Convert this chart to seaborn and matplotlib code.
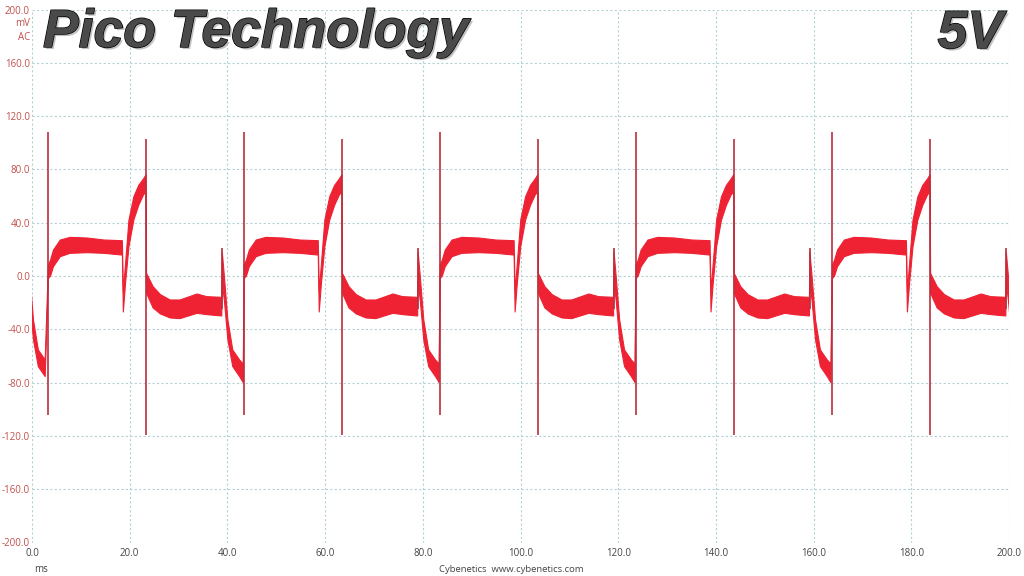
import numpy as np
import pandas as pd
import matplotlib
matplotlib.use("Agg")
import matplotlib.pyplot as plt
import matplotlib.patheffects as pe
import seaborn as sns

# one ripple cycle, time relative to the big spike (ms)
cycle_t = [0.05, 0.5, 1.1, 2.5, 4.5, 8.0, 11.5, 15.2, 15.4, 15.85, 16.55, 17.55,
           18.55, 19.55, 20.05, 20.15, 21.5, 23.0, 25.0, 27.0, 30.5, 32.5, 35.55,
           35.65, 36.1, 36.8, 37.8, 39.2, 39.95]
cycle_top = [8, 12, 19.5, 27, 29, 28.5, 27, 26.5, -12, 9.5, 42, 59.5,
             68, 73, 76, 2, -8, -14, -18, -18, -13.5, -15.5, -16,
             18, -1, -33, -55.5, -63, -66]
cycle_bottom = [-2, 0, 7, 14.5, 17, 17.5, 17, 15.7, -27, -5.5, 22, 42,
                53, 61, 63, -13, -24, -28.5, -31.5, -32, -28, -29, -30,
                -5, -19, -48, -68, -75.5, -80]

# spikes in one cycle: position, top, bottom
spike_t = [0.0, 20.1, 35.6]
spike_top = [108, 103, 21]
spike_bottom = [-104, -119, -25]

# big spike positions of each cycle on the screen (ms)
cycle_starts = [-36.5, 3.3, 43.4, 83.5, 123.6, 163.8]

x_ticks = [0, 20, 40, 60, 80, 100, 120, 140, 160, 180, 200]
y_ticks = [-200, -160, -120, -80, -40, 0, 40, 80, 120, 160, 200]

trace_color = "#ee2233"
spike_color = "#b8303c"
grid_color = "#b4d2d6"
ylab_color = "#c0504d"

# build the trace table from the cycle readings
rows = []
spikes = []
for i, s in enumerate(cycle_starts):
    end = cycle_starts[i + 1] - s if i + 1 < len(cycle_starts) else 60
    for t, hi, lo in zip(cycle_t, cycle_top, cycle_bottom):
        if t < end:
            rows.append((s + t, hi, lo))
    for t, hi, lo in zip(spike_t, spike_top, spike_bottom):
        spikes.append((s + t, hi, lo))
df = pd.DataFrame(rows, columns=["ms", "top", "bottom"])
sp = pd.DataFrame(spikes, columns=["ms", "top", "bottom"])

sns.set_theme(style="white")
plt.rcParams["font.family"] = ["Open Sans", "DejaVu Sans"]

fig = plt.figure(figsize=(10.24, 5.76), dpi=100)
ax = fig.add_axes([32 / 1024, 1 - 542.5 / 576, 977 / 1024, 533 / 576])

ax.fill_between(df["ms"], df["bottom"], df["top"], color=trace_color, lw=0)
sns.lineplot(data=df, x="ms", y="top", color=trace_color, lw=0.8, ax=ax)
sns.lineplot(data=df, x="ms", y="bottom", color=trace_color, lw=0.8, ax=ax)
ax.vlines(sp["ms"], sp["bottom"], sp["top"], color=spike_color, lw=1.2)

ax.set_xlim(0, 200)
ax.set_ylim(-200, 200)
ax.set_xticks(x_ticks)
ax.set_yticks(y_ticks)
ax.set_xticklabels([f"{v:.1f}" for v in x_ticks])
ax.set_yticklabels([f"{v:.1f}" for v in y_ticks])
ax.tick_params(axis="x", length=0, pad=4, labelsize=7, labelcolor="#444444")
ax.tick_params(axis="y", length=0, pad=1.5, labelsize=7, labelcolor=ylab_color)
ax.set_xlabel("")
ax.set_ylabel("")
ax.grid(True, color=grid_color, linestyle=(0, (2, 2)), lw=0.8)
for s in ax.spines.values():
    s.set_visible(False)

fig.text(30 / 1024, 1 - 23 / 576, "mV", ha="right", va="center", fontsize=7, color=ylab_color)
fig.text(30 / 1024, 1 - 37 / 576, "AC", ha="right", va="center", fontsize=7, color=ylab_color)
fig.text(34 / 1024, 1 - 569 / 576, "ms", ha="left", va="center", fontsize=7, color="#444444")
fig.text(511 / 1024, 1 - 569 / 576, "Cybenetics  www.cybenetics.com", ha="center",
         va="center", fontsize=6.8, color="#444444")

title_fx = [pe.withSimplePatchShadow(offset=(1.5, -1.5), shadow_rgbFace="#9a9a9a", alpha=0.6),
            pe.Stroke(linewidth=1.0, foreground="#000000"), pe.Normal()]
fig.text(43 / 1024, 1 - 47 / 576, "Pico Technology", ha="left", va="baseline",
         fontsize=38.5, fontweight="bold", fontstyle="italic", color="#4a4a4a",
         family=["Liberation Sans", "DejaVu Sans"], path_effects=title_fx)
fig.text(1003 / 1024, 1 - 48 / 576, "5V", ha="right", va="baseline",
         fontsize=38.5, fontweight="bold", fontstyle="italic", color="#4a4a4a",
         family=["Liberation Sans", "DejaVu Sans"], path_effects=title_fx)

fig.savefig("out.png", dpi=100)
